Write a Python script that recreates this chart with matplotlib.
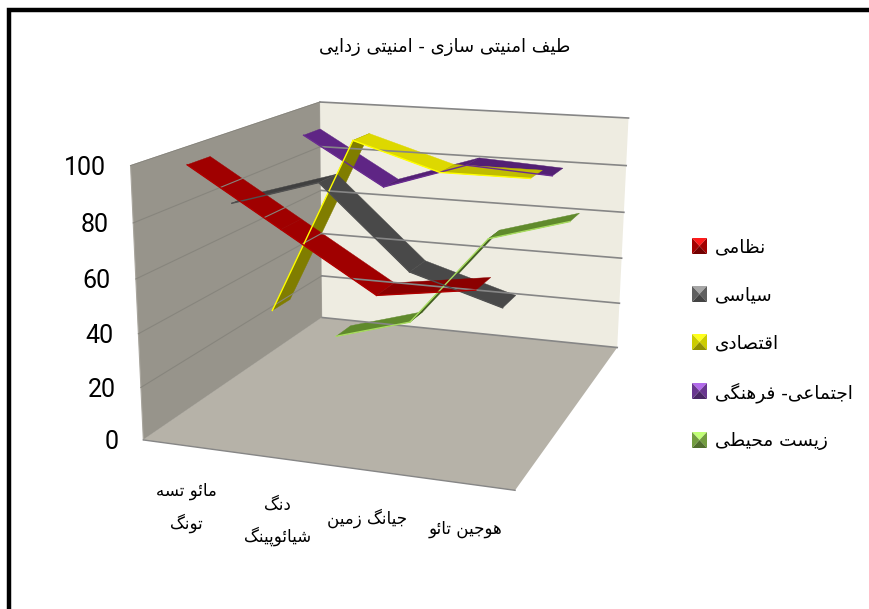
import unicodedata
import numpy as np
import matplotlib
matplotlib.use("Agg")
import matplotlib.pyplot as plt
from matplotlib.patches import Polygon

title = "طیف امنیتی سازی - امنیتی زدایی"
categories = ["مائو تسه\nتونگ", "دنگ\nشیائوپینگ", "جیانگ زمین", "هوجین تائو"]
series_names = ["نظامی", "سیاسی", "اقتصادی", "اجتماعی- فرهنگی", "زیست محیطی"]
value_ticks = [0, 20, 40, 60, 80, 100]

nezami = [100, 80, 60, 65]
siasi = [80, 90, 60, 50]
eghtesadi = [30, 100, 90, 90]
ejtemai = [95, 76, 87, 85]
mohiti = [0, 10, 50, 60]
all_series = [nezami, siasi, eghtesadi, ejtemai, mohiti]

base_colors = ["#A00000", "#494949", "#DDD800", "#5F2585", "#6E9F33"]
edge_colors = ["#B00000", "#505050", "#FFFF00", "#6A2C91", "#A8DC60"]
swatch_colors = ["#C00000", "#707070", "#F0F000", "#7A40A8", "#86B84A"]

# camera: corners of the 3D box (category, depth, value) -> image pixels
box_pts = np.array([(0, 0, 0), (4, 0, 0), (4, 5, 0), (0, 5, 0),
                    (0, 0, 100), (0, 5, 100), (4, 5, 100)], dtype=float)
box_px = np.array([(143, 438), (516, 491), (617, 347), (322, 319),
                   (130, 167), (321, 101), (628, 118)], dtype=float)


def fit_camera(pts, px):
    rows = []
    for (x, y, z), (u, v) in zip(pts, px):
        rows.append([x, y, z, 1, 0, 0, 0, 0, -u*x, -u*y, -u*z, -u])
        rows.append([0, 0, 0, 0, x, y, z, 1, -v*x, -v*y, -v*z, -v])
    _, _, vt = np.linalg.svd(np.array(rows))
    return vt[-1].reshape(3, 4)


P = fit_camera(box_pts, box_px)


def project(x, y, z):
    h = P @ np.array([x, y, z, 1.0])
    return h[0] / h[2], h[1] / h[2]


# matplotlib does no Arabic shaping, so map letters to presentation forms
FORMS = {}
for code in range(0xFB50, 0xFEFD):
    parts = unicodedata.decomposition(chr(code)).split()
    if len(parts) == 2 and parts[0] in ("<isolated>", "<final>", "<initial>", "<medial>"):
        FORMS.setdefault(chr(int(parts[1], 16)), {}).setdefault(parts[0], chr(code))


def fa(text):
    lines = []
    for line in text.split("\n"):
        out = []
        for i, ch in enumerate(line):
            if ch not in FORMS:
                out.append(ch)
                continue
            prev = line[i-1] if i > 0 else " "
            nxt = line[i+1] if i < len(line)-1 else " "
            joins_prev = prev in FORMS and "<medial>" in FORMS[prev]
            joins_next = nxt in FORMS and "<initial>" in FORMS[ch]
            if joins_prev and joins_next:
                key = "<medial>"
            elif joins_prev:
                key = "<final>"
            elif joins_next:
                key = "<initial>"
            else:
                key = "<isolated>"
            out.append(FORMS[ch].get(key, ch))
        lines.append("".join(out)[::-1])
    return "\n".join(lines)


fig = plt.figure(figsize=(8.69, 6.09), dpi=100)
ax = fig.add_axes([0, 0, 1, 1])
ax.set_xlim(0, 869)
ax.set_ylim(609, 0)
ax.axis("off")

# outer frame, runs off the picture on the right and bottom
ax.plot([9, 9, 880], [620, 9.5, 9.5], color="black", lw=3.2, solid_joinstyle="miter")

# walls and floor
ax.add_patch(Polygon([project(0, 0, 0), project(0, 5, 0), project(0, 5, 100), project(0, 0, 100)],
                     fc="#97948B", ec="#A9A69E", lw=0.8))
ax.add_patch(Polygon([project(0, 5, 0), project(4, 5, 0), project(4, 5, 100), project(0, 5, 100)],
                     fc="#EEECE1", ec="none"))
ax.add_patch(Polygon([project(0, 0, 0), project(4, 0, 0), project(4, 5, 0), project(0, 5, 0)],
                     fc="#B6B2A8", ec="none"))
ax.plot(*zip(project(0, 0, 0), project(4, 0, 0)), color="#868686", lw=1)

# gridlines
for tick in value_ticks:
    if tick > 0:
        ax.plot(*zip(project(0, 0, tick), project(0, 5, tick)), color="#87857D", lw=0.8)
    ax.plot(*zip(project(0, 5, tick), project(4, 5, tick)), color="#868686", lw=1.2)
    px, py = project(0, 0, tick)
    ax.text(px - 25, py + 2.5, str(tick), ha="right", va="center", fontsize=18,
            family="Roboto", color="black")

# ribbons, back series first
ribbon_width = 0.26
for s in range(len(all_series) - 1, -1, -1):
    vals = all_series[s]
    y0, y1 = s + 0.5 - ribbon_width, s + 0.5 + ribbon_width
    color = np.array(matplotlib.colors.to_rgb(base_colors[s]))
    for i in range(len(vals) - 1):
        slope = vals[i+1] - vals[i]
        shade = 0.58 if slope > 25 else (0.87 if slope > -10 else 1.0)
        quad = [project(i + 0.5, y0, vals[i]), project(i + 1.5, y0, vals[i+1]),
                project(i + 1.5, y1, vals[i+1]), project(i + 0.5, y1, vals[i])]
        ax.add_patch(Polygon(quad, fc=color * shade, ec=color * shade, lw=0.3))
        ax.plot(*zip(quad[0], quad[1]), color=edge_colors[s], lw=1)

# category labels
label_offset = [(0, 62), (2, 63), (-1, 48), (1, 45)]
for i, name in enumerate(categories):
    px, py = project(i + 0.5, 0, 0)
    ax.text(px + label_offset[i][0], py + label_offset[i][1], fa(name), ha="center", va="center",
            fontsize=12, linespacing=1.9, color="black")

ax.text(445, 47, fa(title), ha="center", va="center", fontsize=13, color="black")

# legend with bevelled swatches
legend_y = [246, 294, 342, 391, 440]
for name, c, yc in zip(series_names, swatch_colors, legend_y):
    rgb = np.array(matplotlib.colors.to_rgb(c))
    x0, x1, y0, y1 = 692, 707, yc - 8, yc + 8
    cx, cy = (x0 + x1) / 2, (y0 + y1) / 2
    corners = [(x0, y0), (x1, y0), (x1, y1), (x0, y1)]
    shades = [np.minimum(rgb * 1.25 + 0.1, 1), rgb * 0.85, rgb * 0.6, rgb * 0.85]
    for k in range(4):
        ax.add_patch(Polygon([corners[k], corners[(k + 1) % 4], (cx, cy)], fc=shades[k], ec="none"))
    ax.text(715, yc + 1.5, fa(name), ha="left", va="center", fontsize=13.3, color="black")

fig.savefig("out.png", dpi=100)
